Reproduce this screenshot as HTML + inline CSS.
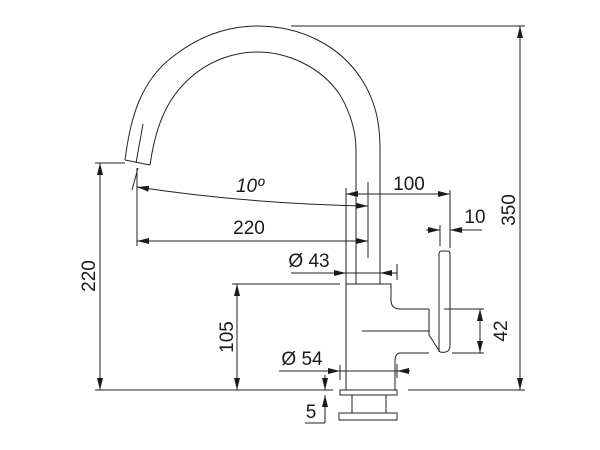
<!DOCTYPE html>
<html><head><style>html,body{margin:0;padding:0;background:#fff}svg{display:block}</style></head><body>
<svg width="600" height="450" viewBox="0 0 600 450" xmlns="http://www.w3.org/2000/svg" font-family="Liberation Sans, Arial, sans-serif" font-size="19" fill="#1a1a1a">
<defs>
<marker id="a" markerWidth="12" markerHeight="6" refX="12" refY="3" orient="auto-start-reverse" markerUnits="userSpaceOnUse"><path d="M0,0 L12,3 L0,6z" fill="#1a1a1a"/></marker>
</defs>
<g stroke="#222" stroke-width="1" fill="none">
<path d="M125,160 C130,120 140,80 175,55 C205,32 235,26 257,26 C300,26 340,45 362,80 C378,105 380,130 380,150 L380,284"/>
<path d="M150,165 C155,130 165,100 190,78 C210,60 235,52 257,52 C285,52 320,65 340,95 C352,115 356,135 356,150 L356,284"/>
<path d="M125,160 L150,165"/>
<path d="M143,124 L136,163"/>
<path d="M138,168 L132,190"/>
<path d="M346,390 L346,284 L391,284 L391,300 Q391,309 400,309 L429,309"/>
<path d="M429,353 L400,353 Q395,353 395,362 L395,390"/>
<line x1="362" y1="331" x2="430" y2="331"/>
<path d="M429,309 L429,335 L440,352"/>
<path d="M439,352 L439,254 Q439,251 442,251 L447,251 Q450,251 450,254 L450,345 Q450,354 440,352"/>
<rect x="340" y="390" width="57" height="5"/>
<rect x="352" y="395" width="34" height="18"/>
<rect x="339" y="413" width="58" height="7"/>
<line x1="291" y1="26" x2="525" y2="26"/>
<line x1="408" y1="390" x2="525" y2="390"/>
<line x1="95" y1="390" x2="333" y2="390"/>
<line x1="95" y1="163" x2="125" y2="163"/>
<line x1="232" y1="284" x2="340" y2="284"/>
<line x1="444" y1="309" x2="484" y2="309"/>
<line x1="452" y1="353" x2="484" y2="353"/>
<line x1="137" y1="168" x2="137" y2="246"/>
<line x1="346" y1="188" x2="346" y2="284"/>
<line x1="368" y1="182" x2="368" y2="258"/>
<line x1="450" y1="190" x2="450" y2="248"/>
<line x1="440" y1="225" x2="440" y2="246"/>
<line x1="397" y1="264" x2="397" y2="280"/>
<line x1="340" y1="365" x2="340" y2="380"/>
<line x1="397" y1="364" x2="397" y2="378"/>
<line x1="305" y1="423" x2="325" y2="423"/>
<line x1="520" y1="26" x2="520" y2="390" marker-start="url(#a)" marker-end="url(#a)"/>
<line x1="100" y1="163" x2="100" y2="390" marker-start="url(#a)" marker-end="url(#a)"/>
<line x1="237" y1="284" x2="237" y2="390" marker-start="url(#a)" marker-end="url(#a)"/>
<line x1="480" y1="309" x2="480" y2="353" marker-start="url(#a)" marker-end="url(#a)"/>
<line x1="137" y1="241" x2="368" y2="241" marker-start="url(#a)" marker-end="url(#a)"/>
<path d="M137,187 Q250,204 368,206" marker-start="url(#a)" marker-end="url(#a)"/>
<line x1="346" y1="194" x2="450" y2="194" marker-start="url(#a)" marker-end="url(#a)"/>
<line x1="291" y1="273" x2="346" y2="273" marker-end="url(#a)"/>
<line x1="397" y1="273" x2="380" y2="273" marker-end="url(#a)"/>
<line x1="346" y1="273" x2="380" y2="273"/>
<line x1="279" y1="371" x2="340" y2="371" marker-end="url(#a)"/>
<line x1="410" y1="371" x2="397" y2="371" marker-end="url(#a)"/>
<line x1="340" y1="371" x2="397" y2="371"/>
<line x1="426" y1="230" x2="440" y2="230" marker-end="url(#a)"/>
<line x1="482" y1="230" x2="450" y2="230" marker-end="url(#a)"/>
<line x1="325" y1="375" x2="325" y2="390" marker-end="url(#a)"/>
<line x1="325" y1="423" x2="325" y2="395" marker-end="url(#a)"/>
</g>
<g stroke="none">
<text x="250" y="192" text-anchor="middle" font-style="italic">10º</text>
<text x="249" y="234" text-anchor="middle">220</text>
<text x="409" y="190" text-anchor="middle">100</text>
<text x="475" y="223" text-anchor="middle">10</text>
<text x="309" y="267" text-anchor="middle">Ø 43</text>
<text x="302" y="365" text-anchor="middle">Ø 54</text>
<text x="311" y="418" text-anchor="middle">5</text>
<text transform="translate(515,210) rotate(-90)" text-anchor="middle">350</text>
<text transform="translate(95,276) rotate(-90)" text-anchor="middle">220</text>
<text transform="translate(233,337) rotate(-90)" text-anchor="middle">105</text>
<text transform="translate(507,331) rotate(-90)" text-anchor="middle">42</text>
</g>
</svg>
</body></html>
